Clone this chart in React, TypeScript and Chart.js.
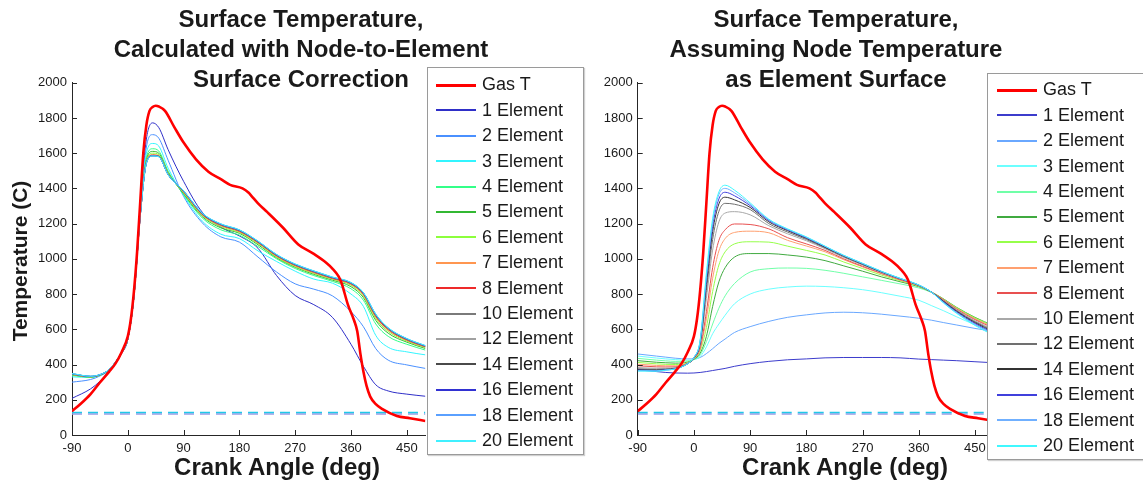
import { useEffect, useRef } from "react";
import { Chart, registerables } from "chart.js";

Chart.register(...registerables);

const FONT = '"Liberation Sans", Arial, Helvetica, sans-serif';
const AXIS_COLOR = "#262626";
const TEXT_COLOR = "#1a1a1a";

// Axes
const X_MIN = -90;
const X_MAX = 480;
const Y_MIN = 0;
const Y_MAX = 2000;
const X_TICKS = [-90, 0, 90, 180, 270, 360, 450];
const Y_TICKS = [0, 200, 400, 600, 800, 1000, 1200, 1400, 1600, 1800, 2000];

// Gas temperature (C) vs crank angle (deg)
const GAS_ANGLES = [-90, -75, -60, -45, -30, -20, -10, 0, 5, 10, 15, 20, 25, 30, 35, 40, 45, 50, 60, 75, 90, 110, 130, 150, 165, 185, 195, 200, 210, 225, 250, 275, 300, 320, 330, 340, 345, 355, 365, 370, 375, 380, 385, 391, 400, 410, 434, 455, 480];
const GAS_T = [135, 180, 232, 298, 360, 405, 470, 560, 660, 820, 1040, 1320, 1600, 1760, 1840, 1862, 1869, 1865, 1840, 1748, 1660, 1565, 1495, 1452, 1420, 1400, 1375, 1355, 1315, 1265, 1178, 1082, 1028, 978, 945, 900, 860, 740, 650, 590, 465, 360, 280, 218, 175, 148, 108, 95, 80];

// Two flat reference levels (dashed)
const REF_LEVEL_UPPER = 128;
const REF_LEVEL_LOWER = 119;

// Surface temperature series sampled at these crank angles
const ELEMENT_ANGLES = [-90, -60, -45, -30, -10, 0, 10, 20, 30, 40, 50, 65, 90, 120, 150, 180, 210, 240, 270, 300, 330, 360, 380, 400, 420, 450, 480];
const ELEMENT_COUNTS = [1, 2, 3, 4, 5, 6, 7, 8, 10, 12, 14, 16, 18, 20];

// Node-to-element surface correction
const corrected1 = [208, 262, 305, 365, 462, 545, 800, 1300, 1680, 1772, 1745, 1620, 1440, 1265, 1180, 1130, 1060, 905, 792, 740, 668, 515, 390, 285, 250, 232, 220];
const corrected2 = [300, 315, 335, 368, 464, 545, 795, 1280, 1635, 1705, 1685, 1560, 1355, 1205, 1125, 1095, 1010, 925, 858, 828, 790, 700, 615, 490, 425, 398, 378];
const corrected3 = [330, 327, 338, 369, 465, 545, 792, 1265, 1600, 1655, 1640, 1515, 1360, 1215, 1140, 1115, 1045, 985, 930, 885, 862, 800, 730, 565, 498, 472, 455];
const corrected4 = [338, 328, 339, 370, 466, 545, 791, 1255, 1575, 1625, 1612, 1498, 1365, 1232, 1165, 1135, 1070, 1000, 945, 905, 872, 830, 765, 630, 560, 515, 482];
const corrected5 = [341, 329, 340, 370, 467, 545, 790, 1250, 1562, 1610, 1600, 1490, 1370, 1240, 1176, 1145, 1080, 1006, 952, 912, 879, 842, 780, 650, 578, 527, 491];
const corrected6 = [343, 330, 340, 371, 467, 545, 790, 1247, 1555, 1600, 1592, 1485, 1375, 1245, 1183, 1150, 1086, 1010, 956, 917, 884, 850, 788, 660, 588, 533, 496];
const corrected7 = [344, 331, 341, 371, 468, 545, 790, 1245, 1550, 1592, 1586, 1482, 1378, 1249, 1188, 1154, 1090, 1014, 960, 921, 887, 855, 795, 668, 595, 537, 499];
const corrected8 = [345, 331, 341, 371, 468, 545, 790, 1243, 1547, 1588, 1583, 1480, 1381, 1252, 1191, 1157, 1093, 1017, 963, 924, 889, 858, 799, 673, 599, 540, 501];
const corrected10 = [346, 332, 342, 372, 468, 545, 790, 1242, 1546, 1587, 1582, 1479, 1383, 1254, 1193, 1159, 1095, 1019, 965, 926, 891, 860, 802, 677, 602, 542, 503];
const corrected12 = [347, 332, 342, 372, 469, 545, 790, 1241, 1545, 1586, 1581, 1479, 1384, 1256, 1195, 1161, 1097, 1021, 967, 928, 893, 862, 804, 680, 604, 544, 504];
const corrected14 = [347, 333, 342, 372, 469, 545, 790, 1240, 1544, 1585, 1581, 1478, 1385, 1257, 1196, 1162, 1098, 1022, 968, 929, 894, 863, 806, 682, 606, 545, 505];
const corrected16 = [348, 333, 343, 372, 469, 545, 790, 1240, 1543, 1585, 1580, 1478, 1386, 1258, 1197, 1163, 1099, 1023, 969, 930, 895, 864, 807, 684, 607, 546, 506];
const corrected18 = [348, 333, 343, 372, 469, 545, 790, 1240, 1543, 1584, 1580, 1478, 1386, 1259, 1198, 1164, 1100, 1024, 970, 931, 896, 865, 808, 685, 608, 547, 507];
const corrected20 = [349, 334, 343, 373, 470, 545, 790, 1239, 1542, 1584, 1580, 1477, 1387, 1260, 1199, 1165, 1101, 1025, 971, 932, 897, 866, 809, 686, 609, 548, 508];

// Node temperature taken as element surface
const nodeSurface1 = [370, 360, 355, 352, 351, 352, 355, 360, 366, 372, 378, 390, 405, 418, 427, 432, 438, 440, 440, 440, 438, 431, 428, 425, 422, 416, 410];
const nodeSurface2 = [460, 448, 442, 436, 432, 432, 440, 462, 490, 520, 545, 582, 615, 645, 668, 682, 693, 697, 694, 686, 675, 663, 652, 638, 625, 605, 588];
const nodeSurface3 = [448, 437, 432, 428, 425, 428, 445, 500, 575, 630, 680, 745, 800, 828, 840, 845, 843, 836, 825, 808, 788, 765, 735, 705, 672, 625, 582];
const nodeSurface4 = [435, 425, 421, 418, 420, 428, 455, 530, 630, 720, 790, 860, 925, 944, 948, 946, 935, 918, 898, 878, 858, 835, 810, 770, 722, 662, 612];
const nodeSurface5 = [422, 413, 410, 408, 414, 430, 465, 560, 730, 870, 950, 1010, 1030, 1030, 1022, 1010, 990, 960, 930, 898, 870, 842, 812, 772, 726, 668, 620];
const nodeSurface6 = [412, 404, 401, 400, 410, 432, 478, 610, 815, 965, 1040, 1085, 1097, 1095, 1072, 1048, 1022, 982, 945, 908, 876, 845, 812, 770, 724, 665, 617];
const nodeSurface7 = [402, 395, 393, 393, 408, 433, 488, 660, 890, 1045, 1115, 1150, 1157, 1148, 1105, 1073, 1040, 995, 954, 915, 880, 847, 812, 768, 720, 660, 612];
const nodeSurface8 = [393, 387, 386, 387, 407, 434, 495, 700, 950, 1105, 1165, 1198, 1195, 1170, 1120, 1085, 1048, 1000, 958, 918, 882, 848, 812, 766, 716, 655, 606];
const nodeSurface10 = [383, 379, 379, 382, 406, 436, 510, 775, 1050, 1210, 1260, 1268, 1250, 1188, 1142, 1103, 1057, 1008, 965, 922, 885, 849, 812, 762, 712, 648, 598];
const nodeSurface12 = [376, 373, 375, 379, 405, 437, 518, 820, 1110, 1270, 1315, 1310, 1280, 1200, 1152, 1110, 1062, 1012, 968, 925, 887, 850, 812, 760, 708, 643, 592];
const nodeSurface14 = [371, 369, 372, 377, 405, 438, 525, 855, 1155, 1312, 1350, 1335, 1292, 1210, 1160, 1116, 1066, 1016, 971, 927, 888, 850, 812, 757, 704, 638, 586];
const nodeSurface16 = [368, 366, 370, 376, 405, 440, 530, 880, 1185, 1340, 1378, 1358, 1302, 1217, 1165, 1120, 1069, 1018, 973, 928, 888, 851, 812, 754, 700, 633, 580];
const nodeSurface18 = [365, 364, 369, 375, 405, 440, 535, 900, 1210, 1365, 1400, 1375, 1310, 1222, 1168, 1123, 1071, 1019, 974, 929, 889, 851, 812, 751, 696, 627, 573];
const nodeSurface20 = [363, 362, 368, 375, 405, 440, 540, 920, 1230, 1380, 1418, 1390, 1318, 1225, 1170, 1125, 1072, 1020, 975, 930, 890, 852, 812, 748, 692, 622, 566];

const CORRECTED = [corrected1, corrected2, corrected3, corrected4, corrected5, corrected6, corrected7, corrected8, corrected10, corrected12, corrected14, corrected16, corrected18, corrected20];
const NODE_SURFACE = [nodeSurface1, nodeSurface2, nodeSurface3, nodeSurface4, nodeSurface5, nodeSurface6, nodeSurface7, nodeSurface8, nodeSurface10, nodeSurface12, nodeSurface14, nodeSurface16, nodeSurface18, nodeSurface20];

const GAS_COLOR = "#ff0000";
const CORRECTED_COLORS = ["#2f2fc8", "#4a90ff", "#33f5ff", "#33ff88", "#33b833", "#8cff3c", "#ff9650", "#ee2a2a", "#7a7a7a", "#a0a0a0", "#4a4a4a", "#3232d2", "#5aa0ff", "#40f0ff"];
const NODE_SURFACE_COLORS = ["#3c3ccc", "#6aa8ff", "#6cffff", "#70ffa8", "#40aa40", "#96ff4a", "#ffa070", "#e85050", "#a8a8a8", "#707070", "#333333", "#4040dc", "#70b0ff", "#40f8ff"];
const REF_UPPER_COLOR = "#20c8e8";
const REF_LOWER_COLOR = "#9a9ae8";

const LEGEND_LABELS = ["Gas T", ...ELEMENT_COUNTS.map((n) => `${n} Element`)];

const inwardTicks = {
  id: "inwardTicks",
  afterDatasetsDraw(chart: any) {
    const { ctx, chartArea, scales } = chart;
    const x = scales.x;
    const y = scales.y;
    ctx.save();
    ctx.strokeStyle = AXIS_COLOR;
    ctx.lineWidth = 1;
    ctx.beginPath();
    for (const v of X_TICKS) {
      const px = Math.round(x.getPixelForValue(v)) + 0.5;
      ctx.moveTo(px, chartArea.bottom);
      ctx.lineTo(px, chartArea.bottom - 5);
    }
    for (const v of Y_TICKS) {
      const py = Math.round(y.getPixelForValue(v)) + 0.5;
      ctx.moveTo(chartArea.left, py);
      ctx.lineTo(chartArea.left + 5, py);
    }
    ctx.stroke();
    ctx.restore();
  },
};

function buildDatasets(series: number[][], colors: string[]) {
  const sets: any[] = [];
  sets.push({
    label: "Gas T",
    data: GAS_ANGLES.map((a, i) => ({ x: a, y: GAS_T[i] })),
    borderColor: GAS_COLOR,
    borderWidth: 2.6,
  });
  for (let i = series.length - 1; i >= 0; i--) {
    sets.push({
      label: `${ELEMENT_COUNTS[i]} Element`,
      data: ELEMENT_ANGLES.map((a, j) => ({ x: a, y: series[i][j] })),
      borderColor: colors[i],
      borderWidth: 1,
    });
  }
  sets.push({
    label: "ref upper",
    data: [{ x: X_MIN, y: REF_LEVEL_UPPER }, { x: X_MAX, y: REF_LEVEL_UPPER }],
    borderColor: REF_UPPER_COLOR,
    borderWidth: 1.6,
    borderDash: [10, 6],
  });
  sets.push({
    label: "ref lower",
    data: [{ x: X_MIN, y: REF_LEVEL_LOWER }, { x: X_MAX, y: REF_LEVEL_LOWER }],
    borderColor: REF_LOWER_COLOR,
    borderWidth: 1.4,
    borderDash: [10, 6],
  });
  return sets;
}

type ChartProps = {
  series: number[][];
  colors: string[];
  left: number;
  width: number;
  padLeft: number;
  padRight: number;
  yWidth: number;
};

const CANVAS_H = 482;
const PLOT_TOP = 82.7;
const PLOT_BOTTOM = 435;
const X_SCALE_H = 30;

function TempChart({ series, colors, left, width, padLeft, padRight, yWidth }: ChartProps) {
  const ref = useRef<HTMLCanvasElement | null>(null);
  useEffect(() => {
    if (!ref.current) return;
    const tickFont = { family: FONT, size: 13 };
    const plain = (v: any) => String(v);
    const chart = new Chart(ref.current, {
      type: "line",
      data: { datasets: buildDatasets(series, colors) },
      options: {
        animation: false,
        responsive: false,
        layout: {
          padding: {
            left: padLeft,
            right: padRight,
            top: PLOT_TOP,
            bottom: CANVAS_H - PLOT_BOTTOM - X_SCALE_H,
          },
        },
        elements: {
          point: { radius: 0, hoverRadius: 0 },
          line: { cubicInterpolationMode: "monotone", borderJoinStyle: "round", borderCapStyle: "butt" },
        },
        plugins: {
          legend: { display: false },
          tooltip: { enabled: false },
          title: { display: false },
        },
        events: [],
        scales: {
          x: {
            type: "linear",
            min: X_MIN,
            max: X_MAX,
            afterBuildTicks: (axis: any) => {
              axis.ticks = X_TICKS.map((v) => ({ value: v }));
            },
            afterFit: (scale: any) => {
              scale.height = X_SCALE_H;
            },
            grid: { display: false, drawTicks: false },
            border: { display: true, color: AXIS_COLOR, width: 1 },
            ticks: { font: tickFont, color: TEXT_COLOR, padding: 6, maxRotation: 0, autoSkip: false, callback: plain },
          },
          y: {
            type: "linear",
            min: Y_MIN,
            max: Y_MAX,
            afterBuildTicks: (axis: any) => {
              axis.ticks = Y_TICKS.map((v) => ({ value: v }));
            },
            afterFit: (scale: any) => {
              scale.width = yWidth;
            },
            grid: { display: false, drawTicks: false },
            border: { display: true, color: AXIS_COLOR, width: 1 },
            ticks: { font: tickFont, color: TEXT_COLOR, padding: 5, autoSkip: false, callback: plain },
          },
        },
      } as any,
      plugins: [inwardTicks],
    });
    return () => chart.destroy();
  }, [series, colors, padLeft, padRight, yWidth]);
  return (
    <canvas
      ref={ref}
      width={width}
      height={CANVAS_H}
      style={{ position: "absolute", left, top: 0, width, height: CANVAS_H, display: "block" }}
    />
  );
}

type LegendProps = { left: number; top: number; width: number; height: number; firstRow: number; sampleX: number; textX: number; colors: string[] };

const ROW_STEP = 25.4;

function Legend({ left, top, width, height, firstRow, sampleX, textX, colors }: LegendProps) {
  const lineColors = [GAS_COLOR, ...colors];
  return (
    <div
      style={{
        position: "absolute",
        left,
        top,
        width,
        height,
        background: "#fff",
        border: "1px solid #9a9a9a",
        boxShadow: "1px 1px 1px #d0d0d0",
        boxSizing: "border-box",
      }}
    >
      {LEGEND_LABELS.map((label, i) => {
        const cy = firstRow + ROW_STEP * i;
        const lw = i === 0 ? 3 : 2;
        return (
          <div key={label}>
            <div
              style={{
                position: "absolute",
                left: sampleX,
                top: Math.round(cy - lw / 2),
                width: 40,
                height: lw,
                background: lineColors[i],
              }}
            />
            <div
              style={{
                position: "absolute",
                left: textX,
                top: cy - ROW_STEP / 2,
                height: ROW_STEP,
                lineHeight: `${ROW_STEP}px`,
                fontFamily: FONT,
                fontSize: 18,
                color: TEXT_COLOR,
                whiteSpace: "nowrap",
              }}
            >
              {label}
            </div>
          </div>
        );
      })}
    </div>
  );
}

const titleStyle = {
  position: "absolute" as const,
  width: 600,
  textAlign: "center" as const,
  fontFamily: FONT,
  fontWeight: 700,
  fontSize: 24,
  lineHeight: "30px",
  color: TEXT_COLOR,
  whiteSpace: "nowrap" as const,
};

const axisLabelStyle = {
  position: "absolute" as const,
  width: 300,
  textAlign: "center" as const,
  fontFamily: FONT,
  fontWeight: 700,
  fontSize: 24,
  lineHeight: "28px",
  color: TEXT_COLOR,
  whiteSpace: "nowrap" as const,
};

export default function App() {
  return (
    <div
      style={{
        position: "absolute",
        left: 0,
        top: 0,
        width: 1143,
        height: 482,
        overflow: "hidden",
        background: "#fff",
      }}
    >
      <TempChart series={CORRECTED} colors={CORRECTED_COLORS} left={0} width={590} padLeft={22} padRight={164.6} yWidth={50} />
      <TempChart series={NODE_SURFACE} colors={NODE_SURFACE_COLORS} left={590} width={553} padLeft={7.7} padRight={149.3} yWidth={40} />

      <div style={{ ...titleStyle, left: 301 - 300, top: 4 }}>
        Surface Temperature,
        <br />
        Calculated with Node-to-Element
        <br />
        Surface Correction
      </div>
      <div style={{ ...titleStyle, left: 836 - 300, top: 4 }}>
        Surface Temperature,
        <br />
        Assuming Node Temperature
        <br />
        as Element Surface
      </div>

      <div style={{ ...axisLabelStyle, left: 277 - 150, top: 453 }}>Crank Angle (deg)</div>
      <div style={{ ...axisLabelStyle, left: 845 - 150, top: 453 }}>Crank Angle (deg)</div>

      <div
        style={{
          position: "absolute",
          left: 20 - 100,
          top: 261 - 13,
          width: 200,
          height: 26,
          lineHeight: "26px",
          textAlign: "center",
          fontFamily: FONT,
          fontWeight: 700,
          fontSize: 21,
          color: TEXT_COLOR,
          transform: "rotate(-90deg)",
          whiteSpace: "nowrap",
        }}
      >
        Temperature (C)
      </div>

      <Legend left={427} top={67} width={157} height={388} firstRow={17} sampleX={8} textX={54} colors={CORRECTED_COLORS} />
      <Legend left={987} top={73} width={170} height={387} firstRow={16} sampleX={9} textX={55} colors={NODE_SURFACE_COLORS} />
    </div>
  );
}
